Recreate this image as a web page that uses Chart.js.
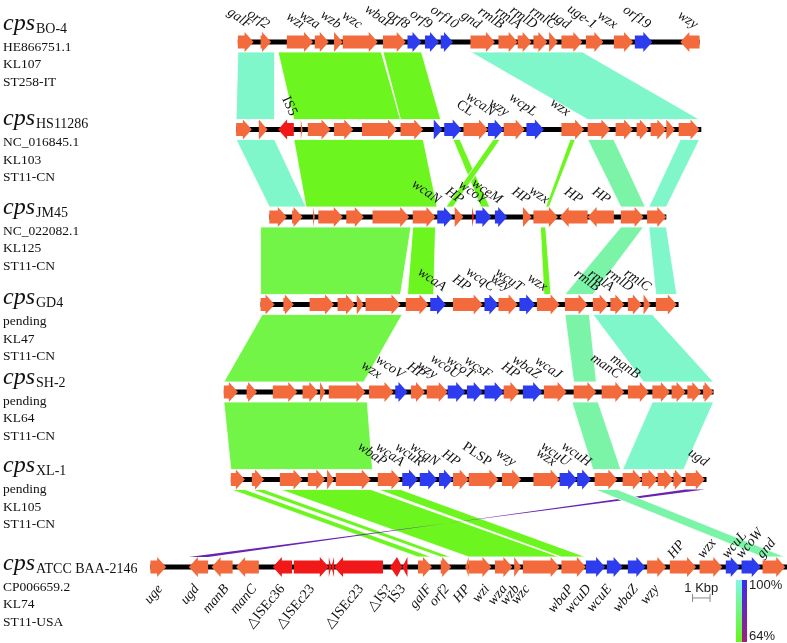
<!DOCTYPE html>
<html>
<head>
<meta charset="utf-8">
<title>cps locus comparison</title>
<script src="https://cdn.jsdelivr.net/npm/chart.js@4.4.0/dist/chart.umd.min.js"></script>
<style>
  html, body { margin: 0; padding: 0; background: #fff; }
  #wrap { position: relative; width: 787px; height: 643px; }
</style>
</head>
<body>
<div id="wrap"><canvas id="cps-chart"></canvas></div>
<script>
// Strains, top to bottom
const strainNames = ['BO-4', 'HS11286', 'JM45', 'GD4', 'SH-2', 'XL-1', 'ATCC BAA-2146'];
const strainInfo = [
    ['HE866751.1', 'KL107', 'ST258-IT'],
    ['NC_016845.1', 'KL103', 'ST11-CN'],
    ['NC_022082.1', 'KL125', 'ST11-CN'],
    ['pending', 'KL47', 'ST11-CN'],
    ['pending', 'KL64', 'ST11-CN'],
    ['pending', 'KL105', 'ST11-CN'],
    ['CP006659.2', 'KL74', 'ST11-USA']
];

// Backbone extent of each locus, kbp
const trackSpans = [[5.0, 31.4], [4.9, 31.5], [6.8, 29.5], [6.3, 30.2], [4.2, 32.2], [4.6, 31.8], [0.0, 36.4]];

// Genes: [start kbp, end kbp, strand, kind]  kind: o = cps gene, b = strain-specific, r = IS element
const genesBO4 = [
    [5.0, 5.9, 1, 'o'], [6.3, 6.9, 1, 'o'], [7.8, 9.3, 1, 'o'], [9.4, 10.2, 1, 'o'], [10.5, 11.0, 1, 'o'],
    [11.0, 13.0, 1, 'o'], [13.3, 14.6, 1, 'o'], [14.7, 15.5, 1, 'b'], [15.7, 16.5, 1, 'b'], [16.6, 17.3, 1, 'b'],
    [18.3, 19.7, 1, 'o'], [19.9, 21.0, 1, 'o'], [21.0, 21.8, 1, 'o'], [21.9, 22.7, 1, 'o'], [22.8, 23.3, 1, 'o'],
    [23.5, 24.7, 1, 'o'], [24.9, 25.9, 1, 'o'], [26.5, 27.6, 1, 'o'], [27.7, 28.7, 1, 'b'], [30.3, 31.4, -1, 'o']
];
const genesHS11286 = [
    [4.9, 5.8, 1, 'o'], [6.2, 6.7, 1, 'o'], [7.3, 8.2, -1, 'r'], [8.6, 8.7, 1, 'o'], [9.0, 10.3, 1, 'o'],
    [10.5, 11.6, 1, 'o'], [12.1, 14.1, 1, 'o'], [14.3, 15.6, 1, 'o'], [16.2, 16.7, 1, 'b'], [16.8, 17.8, 1, 'b'],
    [17.9, 19.3, 1, 'o'], [19.3, 20.2, 1, 'b'], [20.2, 21.4, 1, 'o'], [21.5, 22.5, 1, 'b'], [23.5, 24.8, 1, 'o'],
    [25.0, 26.3, 1, 'o'], [26.6, 27.6, 1, 'o'], [27.8, 28.5, 1, 'o'], [28.6, 29.5, 1, 'o'], [29.5, 30.0, 1, 'o'],
    [30.2, 31.4, 1, 'o']
];
const genesJM45 = [
    [6.8, 7.8, 1, 'o'], [8.1, 8.7, 1, 'o'], [9.3, 9.4, 1, 'o'], [9.6, 11.0, 1, 'o'], [11.2, 12.2, 1, 'o'],
    [12.7, 14.8, 1, 'o'], [15.0, 16.3, 1, 'o'], [16.4, 17.3, 1, 'b'], [17.4, 17.9, 1, 'o'], [18.4, 18.5, 1, 'r'],
    [18.6, 19.5, 1, 'b'], [19.7, 20.4, 1, 'b'], [21.3, 21.8, 1, 'o'], [21.9, 23.3, 1, 'o'], [23.4, 25.0, -1, 'o'],
    [25.0, 26.5, -1, 'o'], [26.9, 28.2, 1, 'o'], [28.4, 29.5, 1, 'o']
];
const genesGD4 = [
    [6.3, 7.1, 1, 'o'], [7.6, 8.2, 1, 'o'], [9.1, 10.5, 1, 'o'], [10.7, 11.7, 1, 'o'], [11.8, 12.2, 1, 'o'],
    [12.3, 14.3, 1, 'o'], [14.6, 15.9, 1, 'o'], [16.0, 16.9, 1, 'b'], [17.3, 19.0, 1, 'o'], [19.1, 19.9, 1, 'b'],
    [19.9, 21.0, 1, 'o'], [21.1, 22.0, 1, 'b'], [22.1, 23.4, 1, 'o'], [23.7, 25.0, 1, 'o'], [25.3, 26.2, 1, 'o'],
    [26.3, 27.1, 1, 'o'], [27.3, 28.1, 1, 'o'], [28.2, 28.6, 1, 'o'], [28.9, 30.1, 1, 'o']
];
const genesSH2 = [
    [4.2, 5.0, 1, 'o'], [5.5, 6.1, 1, 'o'], [7.0, 8.4, 1, 'o'], [8.7, 9.6, 1, 'o'], [9.7, 10.0, 1, 'o'],
    [10.2, 12.3, 1, 'o'], [12.5, 13.9, 1, 'o'], [14.0, 14.7, 1, 'b'], [14.9, 15.7, 1, 'o'], [15.8, 17.0, 1, 'o'],
    [17.0, 18.0, 1, 'b'], [18.1, 19.0, 1, 'b'], [19.1, 20.2, 1, 'b'], [20.2, 21.1, 1, 'o'], [21.3, 22.4, 1, 'b'],
    [22.5, 23.8, 1, 'o'], [24.2, 25.5, 1, 'o'], [25.8, 27.1, 1, 'o'], [27.3, 28.5, 1, 'o'], [28.7, 29.7, 1, 'o'],
    [29.8, 30.6, 1, 'o'], [30.7, 31.5, 1, 'o'], [31.6, 32.2, 1, 'o']
];
const genesXL1 = [
    [4.6, 5.4, 1, 'o'], [5.8, 6.5, 1, 'o'], [7.4, 8.7, 1, 'o'], [9.0, 10.0, 1, 'o'], [10.1, 10.5, 1, 'o'],
    [10.6, 12.6, 1, 'o'], [13.0, 14.3, 1, 'o'], [14.4, 15.3, 1, 'b'], [15.4, 16.4, 1, 'b'], [16.5, 17.3, 1, 'b'],
    [17.3, 18.2, 1, 'o'], [18.2, 19.9, 1, 'o'], [20.1, 21.2, 1, 'o'], [21.9, 23.4, 1, 'o'], [23.4, 24.4, 1, 'b'],
    [24.4, 25.2, 1, 'b'], [25.4, 26.7, 1, 'o'], [27.0, 28.1, 1, 'o'], [28.1, 29.0, 1, 'o'], [29.0, 29.9, 1, 'o'],
    [29.9, 30.5, 1, 'o'], [30.6, 31.7, 1, 'o']
];
const genesATCC = [
    [0.0, 0.9, 1, 'o'], [2.2, 3.3, -1, 'o'], [3.5, 4.7, -1, 'o'], [4.9, 6.2, -1, 'o'], [7.0, 8.1, -1, 'r'],
    [8.2, 10.2, 1, 'r'], [10.2, 10.35, 1, 'r'], [10.35, 10.5, -1, 'r'], [10.5, 13.3, -1, 'r'], [13.7, 14.1, -1, 'r'],
    [14.1, 14.4, 1, 'r'], [14.4, 14.7, -1, 'r'], [15.3, 16.1, 1, 'o'], [16.6, 17.2, 1, 'o'], [18.0, 18.2, -1, 'o'],
    [18.2, 19.5, 1, 'o'], [19.7, 20.7, 1, 'o'], [20.8, 21.2, 1, 'o'], [21.3, 23.4, 1, 'o'], [23.5, 24.9, 1, 'o'],
    [24.9, 26.0, 1, 'b'], [26.1, 27.0, 1, 'b'], [27.3, 28.3, 1, 'b'], [28.4, 29.5, 1, 'o'], [29.7, 31.2, 1, 'o'],
    [31.4, 32.7, 1, 'o'], [32.9, 33.7, 1, 'b'], [33.8, 34.9, 1, 'b'], [35.0, 36.3, 1, 'o']
];
const trackGenes = [genesBO4, genesHS11286, genesJM45, genesGD4, genesSH2, genesXL1, genesATCC];

// Gene labels: [name, kbp where the label ends]
const labelsBO4 = [
    ['galF', 5.6], ['orf2', 6.6], ['wzi', 8.6], ['wza', 9.5], ['wzb', 10.7], ['wzc', 11.9], ['wbaP', 13.7],
    ['orf8', 14.6], ['orf9', 15.9], ['orf10', 17.4], ['gnd', 18.7], ['rmlB', 20.0], ['rmlA', 21.0],
    ['rmlD', 21.9], ['rmlC', 23.0], ['ugd', 23.8], ['uge-1', 25.3], ['wzx', 26.5], ['orf19', 28.4], ['wzy', 31.1]
];
const labelsHS11286 = [['IS5', 8.0], ['CL', 18.3], ['wcaN', 19.5], ['wzy', 20.3], ['wcpL', 21.9], ['wzx', 23.8]];
const labelsJM45 = [
    ['wcaN', 16.4], ['HP', 17.7], ['wcoY', 19.0], ['wceM', 19.9], ['HP', 21.5], ['wzx', 22.6], ['HP', 24.5], ['HP', 26.1]
];
const labelsGD4 = [
    ['wcaA', 16.7], ['HP', 18.1], ['wcqC', 19.5], ['wzy', 20.4], ['wcuT', 21.1], ['wzx', 22.5],
    ['rmlB', 25.5], ['rmlA', 26.3], ['rmlD', 27.4], ['rmlC', 28.4]
];
const labelsSH2 = [
    ['wzx', 13.0], ['wcoV', 14.3], ['HP', 15.5], ['wzy', 16.2], ['wcoU', 17.5], ['wcoT', 18.3], ['wcsF', 19.3],
    ['HP', 20.9], ['wbaZ', 22.1], ['wcaJ', 23.3], ['manC', 26.7], ['manB', 27.8]
];
const labelsXL1 = [
    ['wbaP', 13.3], ['wcaA', 14.3], ['wcuR', 15.4], ['wcqN', 16.3], ['HP', 17.5], ['PLSP', 19.3],
    ['wzy', 20.7], ['wzx', 23.0], ['wcuU', 23.8], ['wcuH', 25.0], ['ugd', 31.7]
];
const labelsATCCBelow = [
    ['uge', 0.6], ['ugd', 2.7], ['manB', 4.4], ['manC', 6.0], ['\u25B3ISEc36', 7.6], ['\u25B3ISEc23', 9.3],
    ['\u25B3ISEc23', 12.1], ['\u25B3IS?', 13.7], ['IS3', 14.5], ['galF', 16.0], ['orf2', 17.0], ['HP', 18.2],
    ['wzi', 19.3], ['wza', 20.3], ['wzb', 21.0], ['wzc', 21.6], ['wbaP', 24.1], ['wcuD', 25.1],
    ['wcuE', 26.3], ['wbaZ', 27.8], ['wzy', 29.0]
];
const labelsATCCAbove = [['HP', 29.9], ['wzx', 31.6], ['wcuL', 33.0], ['wcoW', 33.8], ['gnd', 35.0]];
const trackLabels = [labelsBO4, labelsHS11286, labelsJM45, labelsGD4, labelsSH2, labelsXL1];

// BLASTn blocks between neighbouring loci: [top start, top end, bottom start, bottom end, colour]
const bands12 = [[5.0, 7.1, 4.9, 7.1, 'c'], [7.3, 13.2, 8.2, 14.3, 'g'], [13.3, 15.5, 14.3, 16.6, 'g'], [18.3, 24.7, 25.0, 31.4, 'c']];
const bands23 = [
    [4.9, 7.1, 6.8, 8.9, 'c'], [8.2, 15.6, 8.9, 16.4, 'g'], [17.3, 17.7, 18.9, 19.4, 'g'], [19.6, 20.0, 16.9, 17.3, 'g'],
    [24.0, 24.3, 22.6, 22.8, 'g'], [25.0, 26.5, 26.9, 28.3, 'm'], [30.3, 31.4, 28.5, 29.5, 'c']
];
const bands34 = [[6.3, 14.9, 6.3, 14.3, 'l'], [15.0, 16.3, 14.7, 16.2, 'g'], [22.3, 22.6, 22.5, 22.9, 'g'], [26.9, 28.2, 23.7, 25.3, 'm'], [28.5, 29.5, 28.9, 30.1, 'c']];
const bands45 = [[6.4, 14.4, 4.2, 12.2, 'l'], [23.7, 25.1, 24.2, 25.5, 'm'], [25.3, 28.7, 28.2, 32.2, 'c']];
const bands56 = [[4.2, 12.4, 4.6, 12.7, 'l'], [24.1, 25.6, 25.3, 26.9, 'm'], [28.7, 32.2, 27.0, 30.5, 'c']];
const bands67 = [
    [4.6, 5.4, 15.3, 16.1, 'g'], [5.8, 6.5, 16.6, 17.2, 'g'], [7.4, 12.6, 18.2, 23.4, 'g'], [13.0, 14.3, 23.5, 24.9, 'g'],
    [30.6, 31.7, 3.3, 2.2, 'p'], [25.4, 26.7, 35.0, 36.3, 'm']
];
const bandSets = [bands12, bands23, bands34, bands45, bands56, bands67];

const geneColors = { o: '#f36a3c', b: '#2e3cf0', r: '#f01818' };
const bandColors = { c: '#80f6cb', g: '#6cf51e', l: '#72f546', m: '#7cf4a8', p: '#6a22b0' };

// Drawing sizes
const BODY = 6.5, HEAD = 10, HEAD_LEN = 9, GAP = 10;
const cpsOffsets = [-12, -4, -3, 0, -8, -7, 3];

function isUpright(name) {
    return name.startsWith('\u25B3') || name.startsWith('IS') || name === 'CL' || name === 'PLSP';
}

function drawGene(ctx, x1, x2, y, strand, color) {
    const head = Math.min(HEAD_LEN, x2 - x1);
    ctx.fillStyle = color;
    ctx.beginPath();
    if (strand > 0) {
        ctx.moveTo(x1, y - BODY);
        ctx.lineTo(x2 - head, y - BODY);
        ctx.lineTo(x2 - head, y - HEAD);
        ctx.lineTo(x2, y);
        ctx.lineTo(x2 - head, y + HEAD);
        ctx.lineTo(x2 - head, y + BODY);
        ctx.lineTo(x1, y + BODY);
    } else {
        ctx.moveTo(x2, y - BODY);
        ctx.lineTo(x1 + head, y - BODY);
        ctx.lineTo(x1 + head, y - HEAD);
        ctx.lineTo(x1, y);
        ctx.lineTo(x1 + head, y + HEAD);
        ctx.lineTo(x1 + head, y + BODY);
        ctx.lineTo(x2, y + BODY);
    }
    ctx.closePath();
    ctx.fill();
}

function drawText(ctx, text, x, y, angle, align, font) {
    ctx.save();
    ctx.translate(x, y);
    ctx.rotate(angle * Math.PI / 180);
    ctx.textAlign = align;
    ctx.textBaseline = 'alphabetic';
    ctx.font = font;
    ctx.fillStyle = '#111';
    ctx.fillText(text, 0, 0);
    ctx.restore();
}

function geneFont(name) {
    return (isUpright(name) ? '' : 'italic ') + '14px "Liberation Serif", "DejaVu Serif", serif';
}

const cpsPlugin = {
    id: 'cpsDraw',
    beforeDatasetsDraw(chart) {
        const ctx = chart.ctx, xs = chart.scales.x, ys = chart.scales.y;
        ctx.save();
        bandSets.forEach((set, i) => {
            const yTop = ys.getPixelForValue(i) + GAP;
            const yBot = ys.getPixelForValue(i + 1) - GAP;
            set.forEach(b => {
                ctx.beginPath();
                ctx.moveTo(xs.getPixelForValue(b[0]), yTop);
                ctx.lineTo(xs.getPixelForValue(b[1]), yTop);
                ctx.lineTo(xs.getPixelForValue(b[3]), yBot);
                ctx.lineTo(xs.getPixelForValue(b[2]), yBot);
                ctx.closePath();
                ctx.fillStyle = bandColors[b[4]];
                ctx.fill();
                if (b[4] !== 'p') {
                    ctx.strokeStyle = '#fff';
                    ctx.lineWidth = 0.8;
                    ctx.stroke();
                }
            });
        });
        ctx.restore();
    },
    afterDatasetsDraw(chart) {
        const ctx = chart.ctx, xs = chart.scales.x, ys = chart.scales.y;
        ctx.save();
        // gene arrows
        trackGenes.forEach((genes, i) => {
            const y = ys.getPixelForValue(i);
            genes.forEach(g => {
                drawGene(ctx, xs.getPixelForValue(g[0]), xs.getPixelForValue(g[1]), y, g[2], geneColors[g[3]]);
            });
        });

        // gene labels above loci
        trackLabels.forEach((labels, i) => {
            const y = ys.getPixelForValue(i);
            labels.forEach(l => {
                const angle = l[0] === 'IS5' ? 65 : 35;
                drawText(ctx, l[0], xs.getPixelForValue(l[1]), y - 13, angle, 'right', geneFont(l[0]));
            });
        });
        const yLast = ys.getPixelForValue(6);
        labelsATCCBelow.forEach(l => {
            drawText(ctx, l[0], xs.getPixelForValue(l[1]) + 2, yLast + 22, -50, 'right', geneFont(l[0]));
        });
        labelsATCCAbove.forEach(l => {
            drawText(ctx, l[0], xs.getPixelForValue(l[1]), yLast - 8, -50, 'left', geneFont(l[0]));
        });

        // strain blocks on the left
        const serif = '"Liberation Serif", "DejaVu Serif", serif';
        strainNames.forEach((name, i) => {
            const base = ys.getPixelForValue(i) + cpsOffsets[i];
            ctx.fillStyle = '#111';
            ctx.textAlign = 'left';
            ctx.textBaseline = 'alphabetic';
            ctx.font = 'italic 24px ' + serif;
            ctx.fillText('cps', 3, base);
            const w = ctx.measureText('cps').width;
            ctx.font = '14px ' + serif;
            ctx.fillText(name, 3 + w + 1, base + 3);
            ctx.font = '13.5px ' + serif;
            strainInfo[i].forEach((line, k) => {
                ctx.fillText(line, 3, base + 21 + k * 17.5);
            });
        });

        // 1 Kbp scale bar
        const sx1 = xs.getPixelForValue(31.0), sx2 = xs.getPixelForValue(32.0);
        const sy = yLast + 31;
        ctx.strokeStyle = '#888';
        ctx.lineWidth = 1;
        ctx.beginPath();
        ctx.moveTo(sx1, sy); ctx.lineTo(sx2, sy);
        ctx.moveTo(sx1, sy - 4); ctx.lineTo(sx1, sy + 4);
        ctx.moveTo(sx2, sy - 4); ctx.lineTo(sx2, sy + 4);
        ctx.stroke();
        ctx.fillStyle = '#222';
        ctx.font = '13px "Liberation Sans", Arial, sans-serif';
        ctx.textAlign = 'center';
        ctx.fillText('1 Kbp', (sx1 + sx2) / 2, sy - 6);

        // identity colour key
        const area = chart.chartArea;
        const kx = area.right - 51, ky1 = yLast + 13, ky2 = area.bottom - 1;
        let grad = ctx.createLinearGradient(0, ky1, 0, ky2);
        grad.addColorStop(0, '#82f7e6');
        grad.addColorStop(1, '#66f51a');
        ctx.fillStyle = grad;
        ctx.fillRect(kx, ky1, 6, ky2 - ky1);
        grad = ctx.createLinearGradient(0, ky1, 0, ky2);
        grad.addColorStop(0, '#3a2cf0');
        grad.addColorStop(1, '#a01f7c');
        ctx.fillStyle = grad;
        ctx.fillRect(kx + 6, ky1, 5, ky2 - ky1);
        ctx.fillStyle = '#222';
        ctx.textAlign = 'left';
        ctx.fillText('100%', kx + 13, ky1 + 9);
        ctx.fillText('64%', kx + 13, ky2 - 2);
        ctx.restore();
    }
};

function initCpsChart() {
    const canvas = document.getElementById('cps-chart');
    if (!canvas) return;

    // backbone of each locus as a plain line through the scales
    const backbones = trackSpans.map((span, i) => ({
        data: [{ x: span[0], y: i }, { x: span[1], y: i }],
        showLine: true,
        borderColor: '#000',
        borderWidth: 5,
        pointRadius: 0,
        fill: false
    }));

    new Chart(canvas, {
        type: 'scatter',
        data: { datasets: backbones },
        options: {
            responsive: true,
            maintainAspectRatio: false,
            animation: false,
            layout: { padding: 0 },
            plugins: {
                legend: { display: false },
                tooltip: { enabled: false },
                title: { display: false }
            },
            scales: {
                x: { type: 'linear', min: -8.6, max: 36.4, display: false },
                y: { type: 'linear', min: -0.48, max: 6.869, reverse: true, display: false }
            }
        },
        plugins: [cpsPlugin]
    });
}

if (document.readyState === 'loading') {
    document.addEventListener('DOMContentLoaded', initCpsChart);
} else {
    initCpsChart();
}
</script>
</body>
</html>
